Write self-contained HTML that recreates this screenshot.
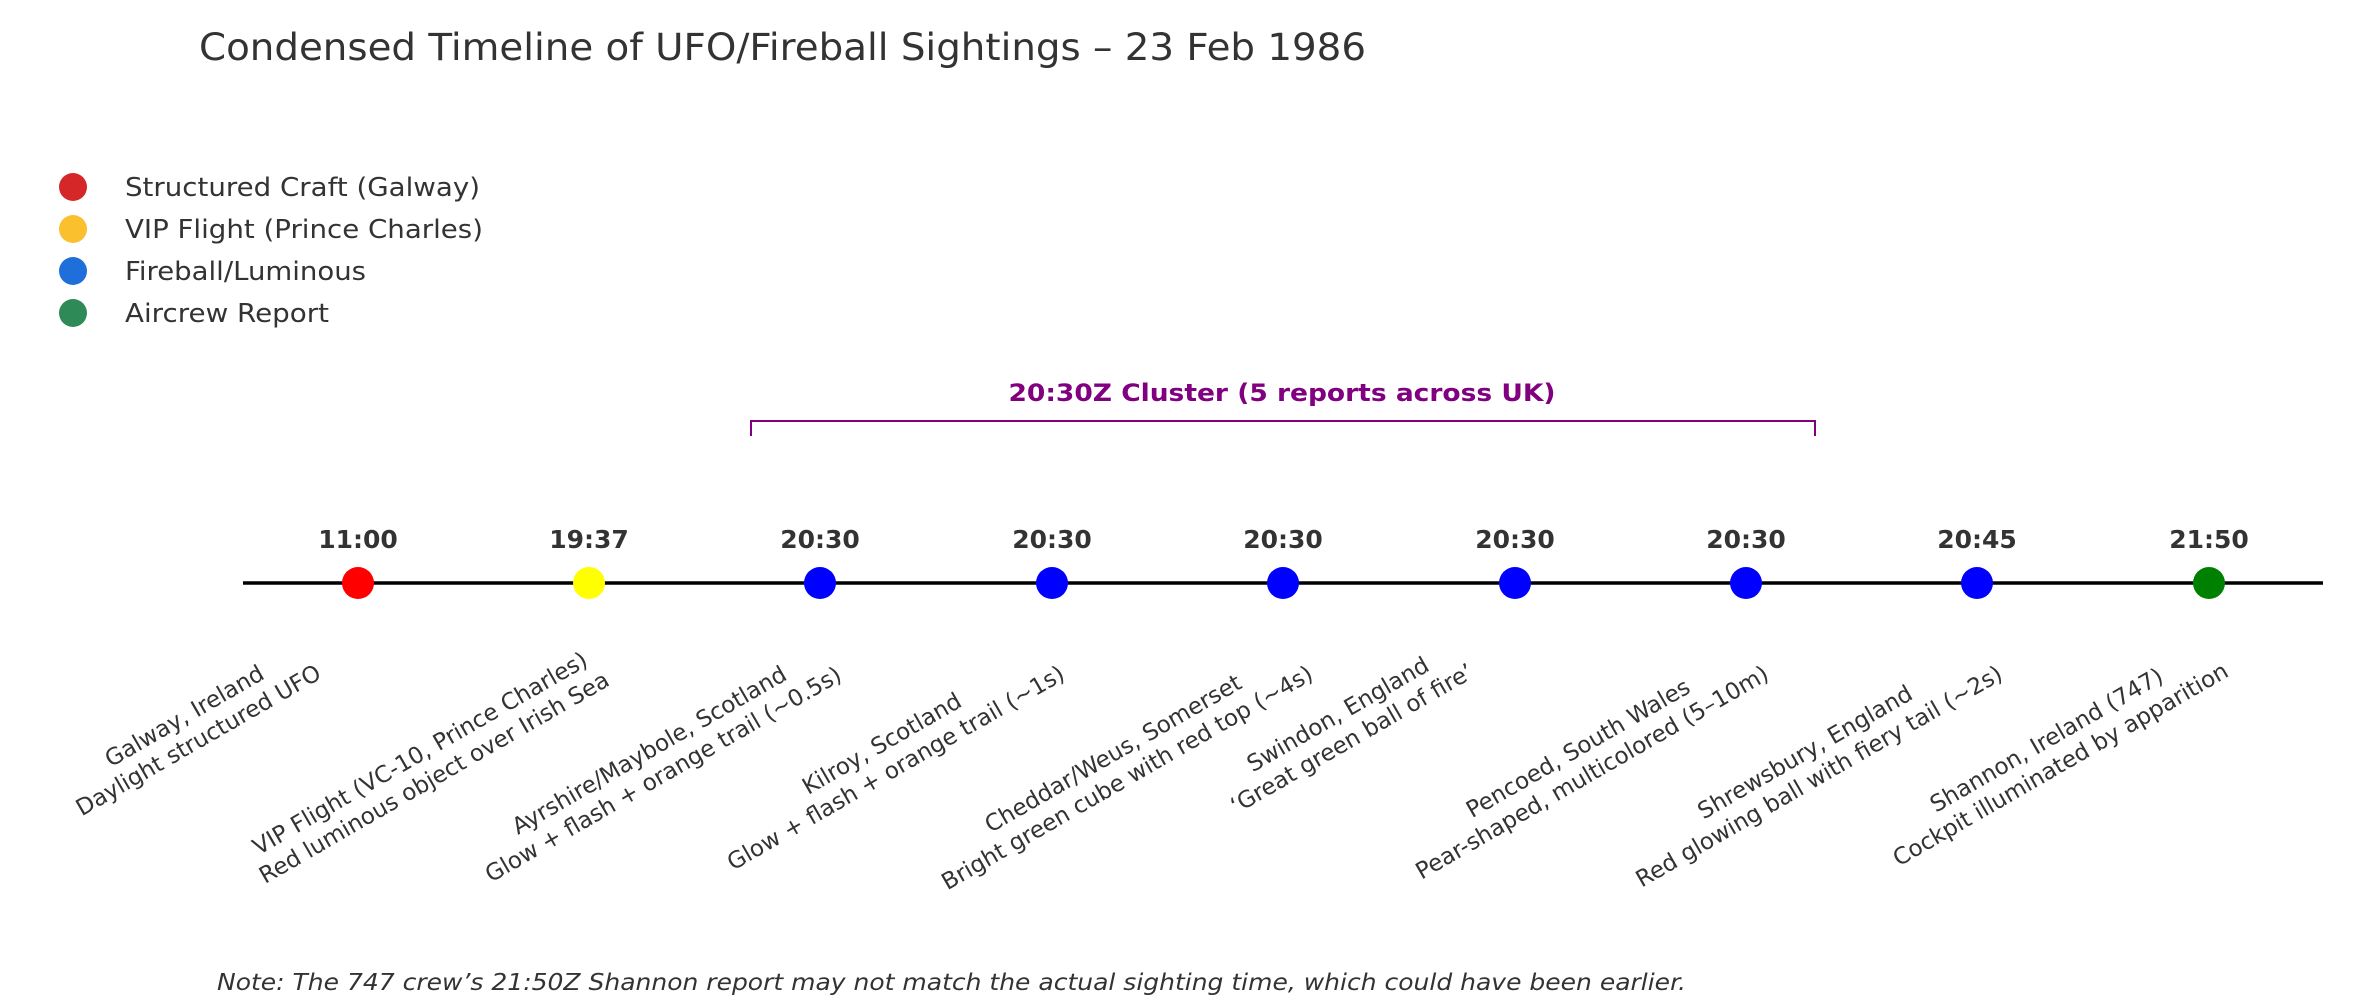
<!DOCTYPE html>
<html><head><meta charset="utf-8"><style>
html,body{margin:0;padding:0;background:#fff;}
#c{position:relative;width:2364px;height:999px;overflow:hidden;font-family:"DejaVu Sans","Liberation Sans",sans-serif;}
.lb{position:absolute;white-space:pre;text-align:center;font-size:23px;line-height:28px;color:#333;transform-origin:100% 0;transform:rotate(-30deg);}
</style></head><body><div id="c">
<svg width="2364" height="999" style="position:absolute;left:0;top:0" font-family="DejaVu Sans, Liberation Sans, sans-serif">
<text x="199" y="60" font-size="37" fill="#333" textLength="1167" lengthAdjust="spacingAndGlyphs">Condensed Timeline of UFO/Fireball Sightings – 23 Feb 1986</text>
<circle cx="73" cy="187" r="14" fill="#d62728"/>
<circle cx="73" cy="229" r="14" fill="#fbc02d"/>
<circle cx="73" cy="271" r="14" fill="#1e6fd9"/>
<circle cx="73" cy="313" r="14" fill="#2e8b57"/>
<g font-size="26" fill="#333">
<text x="125" y="196" textLength="355" lengthAdjust="spacingAndGlyphs">Structured Craft (Galway)</text>
<text x="125" y="238" textLength="358" lengthAdjust="spacingAndGlyphs">VIP Flight (Prince Charles)</text>
<text x="125" y="280" textLength="241" lengthAdjust="spacingAndGlyphs">Fireball/Luminous</text>
<text x="125" y="322" textLength="204" lengthAdjust="spacingAndGlyphs">Aircrew Report</text>
</g>
<text x="1282" y="401" font-size="24" font-weight="bold" fill="#800080" text-anchor="middle" textLength="547" lengthAdjust="spacingAndGlyphs">20:30Z Cluster (5 reports across UK)</text>
<path d="M751 436 V421 H1815 V436" fill="none" stroke="#800080" stroke-width="2"/>
<line x1="243" y1="583" x2="2323" y2="583" stroke="#000" stroke-width="3.5"/>
<g fill="#333" font-size="25" font-weight="bold" text-anchor="middle">
<text x="358" y="548">11:00</text>
<text x="589" y="548">19:37</text>
<text x="820" y="548">20:30</text>
<text x="1052" y="548">20:30</text>
<text x="1283" y="548">20:30</text>
<text x="1515" y="548">20:30</text>
<text x="1746" y="548">20:30</text>
<text x="1977" y="548">20:45</text>
<text x="2209" y="548">21:50</text>
</g>
<circle cx="358" cy="583" r="16" fill="#ff0000"/>
<circle cx="589" cy="583" r="16" fill="#ffff00"/>
<circle cx="820" cy="583" r="16" fill="#0000ff"/>
<circle cx="1052" cy="583" r="16" fill="#0000ff"/>
<circle cx="1283" cy="583" r="16" fill="#0000ff"/>
<circle cx="1515" cy="583" r="16" fill="#0000ff"/>
<circle cx="1746" cy="583" r="16" fill="#0000ff"/>
<circle cx="1977" cy="583" r="16" fill="#0000ff"/>
<circle cx="2209" cy="583" r="16" fill="#008000"/>
<text x="217" y="990" font-size="23" font-style="italic" fill="#333" textLength="1469" lengthAdjust="spacingAndGlyphs">Note: The 747 crew’s 21:50Z Shannon report may not match the actual sighting time, which could have been earlier.</text>
</svg>
<div class="lb" style="right:2066px;top:635px">Galway, Ireland
Daylight structured UFO</div>
<div class="lb" style="right:1778px;top:642px">VIP Flight (VC-10, Prince Charles)
Red luminous object over Irish Sea</div>
<div class="lb" style="right:1545px;top:637px">Ayrshire/Maybole, Scotland
Glow + flash + orange trail (~0.5s)</div>
<div class="lb" style="right:1322px;top:636px">Kilroy, Scotland
Glow + flash + orange trail (~1s)</div>
<div class="lb" style="right:1074px;top:636px">Cheddar/Weus, Somerset
Bright green cube with red top (~4s)</div>
<div class="lb" style="right:913px;top:634px">Swindon, England
‘Great green ball of fire’</div>
<div class="lb" style="right:618px;top:636px">Pencoed, South Wales
Pear-shaped, multicolored (5–10m)</div>
<div class="lb" style="right:384px;top:636px">Shrewsbury, England
Red glowing ball with fiery tail (~2s)</div>
<div class="lb" style="right:158px;top:633px">Shannon, Ireland (747)
Cockpit illuminated by apparition</div>
</div></body></html>
